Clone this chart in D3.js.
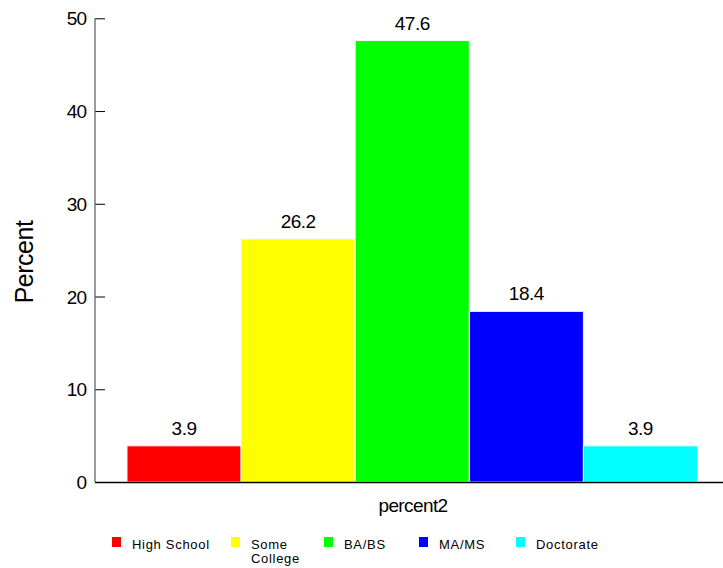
<!DOCTYPE html>
<html><head><meta charset="utf-8">
<script src="https://cdn.jsdelivr.net/npm/d3@7"></script>
<style>body{margin:0;background:#fff}svg{display:block;font-family:"Liberation Sans",Arial,sans-serif}</style>
</head><body>
<svg id="c" width="723" height="568"></svg>
<script>
const categories = ["High School","Some College","BA/BS","MA/MS","Doctorate"];
const values = [3.9, 26.2, 47.6, 18.4, 3.9];
const colors = ["#ff0000","#ffff00","#00ff00","#0000ff","#00ffff"];
const yTicks = [0,10,20,30,40,50];
const legendLines = [["High School"],["Some","College"],["BA/BS"],["MA/MS"],["Doctorate"]];
const legendX = [112,231,324,419,516];

const svg = d3.select("#c");
const y = d3.scaleLinear().domain([0,50]).range([482,18.3]);
const x = d3.scaleBand().domain(categories).range([127,697.5]).padding(0);

// bars
svg.selectAll("rect.bar").data(values).join("rect")
  .attr("class","bar")
  .attr("x",(d,i)=>x(categories[i]))
  .attr("width",x.bandwidth())
  .attr("y",d=>y(d))
  .attr("height",d=>y(0)-y(d))
  .attr("fill",(d,i)=>colors[i])
  .attr("stroke","#f4f4f4").attr("stroke-width",1);

// value labels
svg.selectAll("text.val").data(values).join("text")
  .attr("class","val")
  .attr("x",(d,i)=>x(categories[i])+x.bandwidth()/2)
  .attr("y",d=>y(d)-11)
  .attr("text-anchor","middle")
  .attr("font-size",19).attr("letter-spacing",-0.5).attr("fill","#000")
  .text(d=>d.toFixed(1));

// y axis
const yAxis = d3.axisRight(y).tickValues(yTicks).tickSize(10).tickFormat("");
const ga = svg.append("g").attr("transform","translate(95,0)").call(yAxis);
ga.select(".domain").remove();
ga.selectAll(".tick line").attr("stroke","#000");
svg.append("line").attr("x1",95).attr("x2",95).attr("y1",y(50)).attr("y2",y(0)).attr("stroke","#666").attr("stroke-width",1.3);
svg.selectAll("text.yt").data(yTicks).join("text")
  .attr("class","yt")
  .attr("x",86).attr("y",d=>y(d)+7)
  .attr("text-anchor","end").attr("font-size",19).attr("letter-spacing",-1)
  .text(d=>d);

// x axis line
svg.append("line").attr("x1",95).attr("x2",723).attr("y1",482.5).attr("y2",482.5).attr("stroke","#000").attr("stroke-width",1.3);

// axis titles
svg.append("text").attr("transform","translate(33,262) rotate(-90)")
  .attr("text-anchor","middle").attr("font-size",25).attr("letter-spacing",-0.5).text("Percent");
svg.append("text").attr("x",413).attr("y",512).attr("text-anchor","middle")
  .attr("font-size",19).attr("letter-spacing",-0.6).text("percent2");

// legend
const lg = svg.selectAll("g.lg").data(categories).join("g").attr("class","lg")
  .attr("transform",(d,i)=>`translate(${legendX[i]},0)`);
lg.append("rect").attr("x",0).attr("y",537).attr("width",9).attr("height",10)
  .attr("fill",(d,i)=>colors[i]);
lg.each(function(d,i){
  const t = d3.select(this).append("text").attr("x",20).attr("y",549).attr("font-size",13).attr("letter-spacing",0.7).attr("fill","#000");
  legendLines[i].forEach((s,j)=>t.append("tspan").attr("x",20).attr("dy",j?14:0).text(s));
});
</script>
</body></html>
